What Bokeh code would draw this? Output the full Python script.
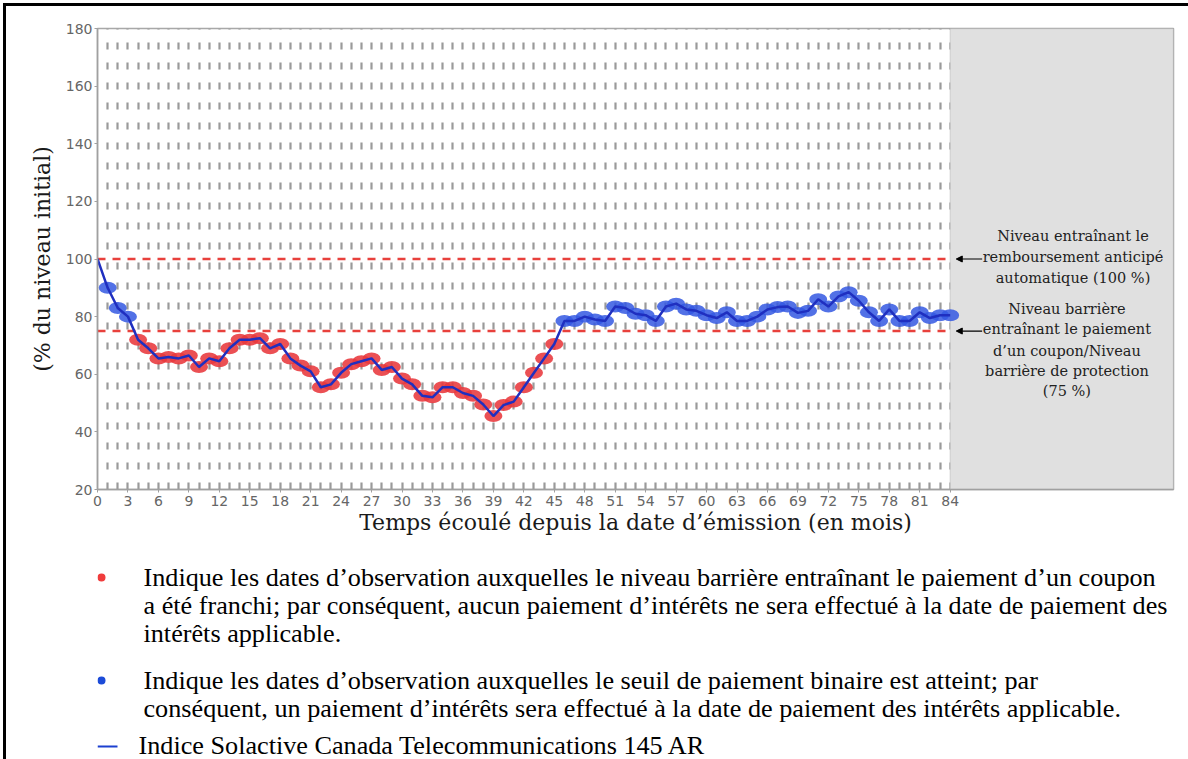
from bokeh.plotting import figure
from bokeh.layouts import column
from bokeh.models import (Range1d, FixedTicker, BoxAnnotation, Label, Arrow,
                          NormalHead, ColumnDataSource)
from bokeh.core.properties import value
from bokeh.embed import file_html
from bokeh.resources import INLINE

# ---------------- data ----------------
months = list(range(0, 85))
index_level = [100, 90, 83, 80, 72, 69, 65.5, 66, 65.5, 66.5,
               62.5, 65.5, 64.5, 69, 72, 72, 72.5, 69, 70.5, 65.5,
               63, 61, 55.5, 56.5, 60.5, 63.5, 64.5, 65.5, 61.5, 62.5,
               58.5, 56.5, 52.5, 52, 55.5, 55.5, 53.5, 52.5, 49.5, 45.5,
               49.3, 50.5, 55.5, 60.5, 65.5, 70.5, 78.5, 78.5, 80, 79,
               78.5, 83.5, 83, 81, 80.5, 78.5, 83.5, 84.5, 82.5, 82,
               80.5, 79.5, 81.5, 78.5, 78.5, 80, 82.5, 83.3, 83.5, 81.3,
               82, 86, 83.5, 87, 88.5, 85.5, 81.5, 78.5, 82.5, 78.5,
               78.5, 81.5, 79.5, 80.5, 80.5]
autocall_level = 100
barrier_level = 75
thresholds = [autocall_level, barrier_level]
x_ticks = list(range(0, 85, 3))
y_ticks = list(range(20, 181, 20))
x_max_month = 84
x_axis_title = "Temps écoulé depuis la date d’émission (en mois)"
y_axis_title = "(% du niveau initial)"
annot_autocall = ["Niveau entraînant le", "remboursement anticipé", "automatique (100 %)"]
annot_barrier = ["Niveau barrière", "entraînant le paiement", "d’un coupon/Niveau",
                 "barrière de protection", "(75 %)"]
legend_red = ["Indique les dates d’observation auxquelles le niveau barrière entraînant le paiement d’un coupon",
              "a été franchi; par conséquent, aucun paiement d’intérêts ne sera effectué à la date de paiement des",
              "intérêts applicable."]
legend_blue = ["Indique les dates d’observation auxquelles le seuil de paiement binaire est atteint; par",
               "conséquent, un paiement d’intérêts sera effectué à la date de paiement des intérêts applicable."]
legend_line = "Indice Solactive Canada Telecommunications 145 AR"

RED_MARK = "#e8383c"
BLUE_MARK = "#3458e2"
LINE_BLUE = "#1f2fc0"

W = 1188
H_TOP = 548
H_BOT = 759 - H_TOP
FRAME_L, FRAME_R = 97, 15

# ---------------- chart ----------------
p = figure(width=W, height=H_TOP, x_range=Range1d(0, 106), y_range=Range1d(20, 180),
           output_backend="svg", toolbar_location=None,
           min_border_left=FRAME_L, min_border_right=FRAME_R, min_border_top=28, min_border_bottom=59)
p.background_fill_color = "white"
p.border_fill_color = None
p.styles = {"box-shadow": "inset 3px 3px 0 0 white, inset 6px 6px 0 0 black",
            "background-color": "white"}
p.outline_line_color = "#a8a8a8"
p.outline_line_width = 1.5

# shaded region after maturity
p.add_layout(BoxAnnotation(left=x_max_month, right=106, fill_color="#e0e0e0", fill_alpha=1.0,
                           line_color="#a8a8a8", line_width=1.5, level="underlay"))

p.xgrid.ticker = FixedTicker(ticks=list(range(1, x_max_month + 1)))
p.xgrid.grid_line_color = "#9a9a9a"
p.xgrid.grid_line_width = 2.2
p.xgrid.grid_line_dash = "7 13"
p.ygrid.grid_line_color = None

for ax in (p.xaxis[0], p.yaxis[0]):
    ax.axis_line_color = "#a0a0a0"
    ax.axis_line_width = 1.5
    ax.major_tick_line_color = "#a0a0a0"
    ax.major_tick_out = 3
    ax.major_tick_in = 0
    ax.minor_tick_line_color = None
    ax.major_label_text_font = "DejaVu Sans"
    ax.major_label_text_font_size = "14px"
    ax.major_label_text_color = "#666666"
    ax.axis_label_text_font = "DejaVu Serif"
    ax.axis_label_text_font_size = "22px"
    ax.axis_label_text_font_style = "normal"
    ax.axis_label_text_color = "#1a1a1a"
p.xaxis.ticker = FixedTicker(ticks=x_ticks)
p.yaxis.ticker = FixedTicker(ticks=y_ticks)
p.xaxis.major_label_standoff = 3
p.yaxis.major_label_standoff = 2
p.xaxis.axis_label = x_axis_title
p.yaxis.axis_label = y_axis_title
p.xaxis.axis_label_standoff = 1
p.yaxis.axis_label_standoff = 8

# threshold lines
thr_src = ColumnDataSource(dict(y=thresholds, x0=[0] * len(thresholds),
                                x1=[x_max_month] * len(thresholds)))
p.segment(x0="x0", y0="y", x1="x1", y1="y", source=thr_src,
          line_color="#e8413c", line_width=2.5, line_dash="8 7")

# markers
red_x = [m for m, v in zip(months[1:], index_level[1:]) if v < barrier_level]
red_y = [v for v in index_level[1:] if v < barrier_level]
blue_x = [m for m, v in zip(months[1:], index_level[1:]) if v >= barrier_level]
blue_y = [v for v in index_level[1:] if v >= barrier_level]
p.ellipse(x=red_x, y=red_y, width=18, height=12, width_units="screen", height_units="screen",
          fill_color=RED_MARK, fill_alpha=0.88, line_color=None)
p.ellipse(x=blue_x, y=blue_y, width=18, height=12, width_units="screen", height_units="screen",
          fill_color=BLUE_MARK, fill_alpha=0.85, line_color=None)

# index line
p.line(months, index_level, line_color=LINE_BLUE, line_width=2.5)

# annotations
for txt, off in zip(annot_autocall, [23, 2, -19]):
    p.add_layout(Label(x=96.1, y=autocall_level, text=txt, y_offset=off,
                       text_font="DejaVu Serif", text_font_size="14.5px",
                       text_color="#222222", text_align="center", text_baseline="middle"))
for txt, off in zip(annot_barrier, [22, 2, -20, -40, -60]):
    p.add_layout(Label(x=95.5, y=barrier_level, text=txt, y_offset=off,
                       text_font="DejaVu Serif", text_font_size="14.5px",
                       text_color="#222222", text_align="center", text_baseline="middle"))
for lvl in thresholds:
    p.add_layout(Arrow(x_start=87.15, y_start=lvl, x_end=84.6, y_end=lvl,
                       line_color="black", line_width=1.2,
                       end=NormalHead(size=6, fill_color="black", line_color="black")))

# ---------------- legend panel (page pixel coordinates) ----------------
q = figure(width=W, height=H_BOT, x_range=Range1d(FRAME_L, W - FRAME_R),
           y_range=Range1d(759, H_TOP), output_backend="svg", toolbar_location=None,
           min_border_left=FRAME_L, min_border_right=FRAME_R, min_border_top=0, min_border_bottom=0)
q.axis.visible = False
q.grid.visible = False
q.outline_line_color = None
q.background_fill_color = "white"
q.border_fill_color = None
q.styles = {"box-shadow": "inset 3px 0 0 0 white, inset 6px 0 0 0 black",
            "background-color": "white"}

leg_texts = legend_red + legend_blue + [legend_line]
leg_x = [143, 143, 143, 143, 143, 138]
leg_y = [577, 605, 633, 680, 708, 745]
leg_src = ColumnDataSource(dict(x=leg_x, y=leg_y, t=leg_texts))
q.text(x="x", y="y", text="t", source=leg_src, text_font=value("Liberation Serif"),
       text_font_size="26.2px", text_color="#000000", text_baseline="middle", text_align="left")
q.scatter(x=[101, 101], y=[577, 680], size=8, marker="circle",
          fill_color=["#f03c3c", "#1c4bd8"], line_color=None)
q.segment(x0=[97], y0=[746], x1=[117], y1=[746], line_color="#1c40d0", line_width=2)

layout = column(p, q, spacing=0)
open("out.html", "w").write(file_html(layout, INLINE))
